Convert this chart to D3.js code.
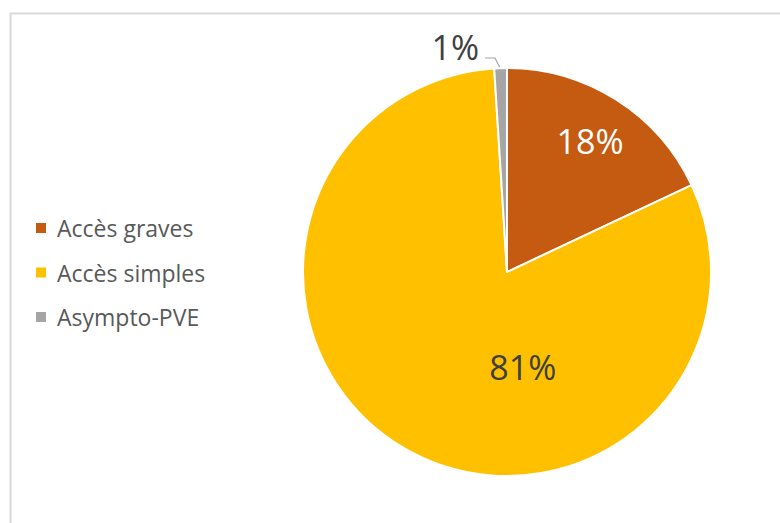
<!DOCTYPE html>
<html>
<head>
<meta charset="utf-8">
<script src="https://cdn.jsdelivr.net/npm/d3@7"></script>
<style>
  html, body { margin: 0; padding: 0; background: #fff; }
  svg { display: block; }
</style>
</head>
<body>
<svg id="chart" width="780" height="523"></svg>
<script>
// Répartition des cas
const categories = ["Accès graves", "Accès simples", "Asympto-PVE"];
const values = [18, 81, 1];
const labels = ["18%", "81%", "1%"];
const colors = ["#C55A11", "#FFC000", "#A5A5A5"];

const svg = d3.select("#chart");
const W = 780, H = 523;
const font = "'Open Sans', sans-serif";

// chart frame (top and left edges visible)
svg.append("rect")
  .attr("x", 10.5).attr("y", 13.5)
  .attr("width", W + 20).attr("height", H + 20)
  .attr("fill", "#fff")
  .attr("stroke", "#d9d9d9").attr("stroke-width", 2);

const cx = 507, cy = 272, r = 204;

const pie = d3.pie().sort(null).value(d => d)(values);
const arc = d3.arc().innerRadius(0).outerRadius(r);

const g = svg.append("g").attr("transform", `translate(${cx},${cy})`);

g.selectAll("path.slice")
  .data(pie)
  .join("path")
  .attr("class", "slice")
  .attr("d", arc)
  .attr("fill", (d, i) => colors[i])
  .attr("stroke", "#fff")
  .attr("stroke-width", 2)
  .attr("stroke-linejoin", "round");

// data labels inside the slices: radius fraction and angle shift per slice
const labelColors = ["#ffffff", "#404040", "#404040"];
const labelPlace = [
  { rf: 0.76, shift: 0 },
  { rf: 0.47, shift: -0.7 },
];

pie.forEach((d, i) => {
  if (i === 2) return;
  const a = (d.startAngle + d.endAngle) / 2 + labelPlace[i].shift;
  const rr = r * labelPlace[i].rf;
  g.append("text")
    .attr("x", Math.sin(a) * rr).attr("y", -Math.cos(a) * rr)
    .attr("text-anchor", "middle")
    .attr("dominant-baseline", "central")
    .attr("font-family", font)
    .attr("font-size", 34)
    .attr("fill", labelColors[i])
    .text(labels[i]);
});

// small slice: label outside with a leader line
{
  const d = pie[2];
  const mid = (d.startAngle + d.endAngle) / 2;
  const px = Math.sin(mid) * r, py = -Math.cos(mid) * r;
  const lx = -22, ly = -214;
  g.append("path")
    .attr("d", `M${px - 1},${py - 1} L${lx + 10},${ly} L${lx},${ly}`)
    .attr("fill", "none")
    .attr("stroke", "#a6a6a6")
    .attr("stroke-width", 1.2);
  g.append("text")
    .attr("x", lx - 6).attr("y", ly - 11)
    .attr("text-anchor", "end")
    .attr("dominant-baseline", "central")
    .attr("font-family", font)
    .attr("font-size", 34)
    .attr("fill", labelColors[2])
    .text(labels[2]);
}

// legend
const legend = svg.append("g").attr("transform", "translate(36,228)");
categories.forEach((c, i) => {
  const row = legend.append("g").attr("transform", `translate(0,${i * 44.5})`);
  row.append("rect")
    .attr("x", 0).attr("y", -5)
    .attr("width", 10).attr("height", 10)
    .attr("fill", colors[i]);
  row.append("text")
    .attr("x", 21).attr("y", 0)
    .attr("dominant-baseline", "central")
    .attr("font-family", font)
    .attr("font-size", 23)
    .attr("fill", "#595959")
    .text(c);
});
</script>
</body>
</html>
